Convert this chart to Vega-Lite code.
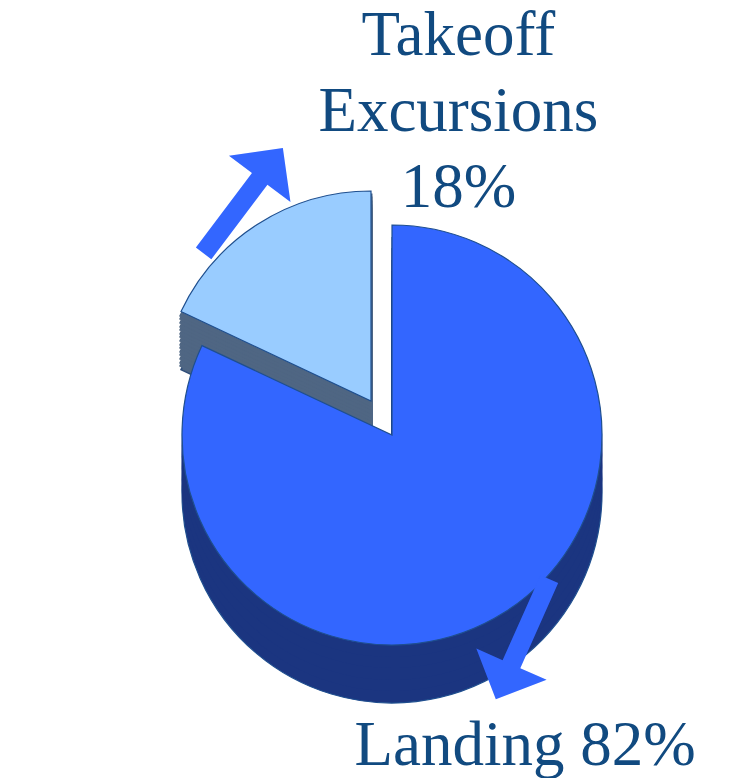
{
  "$schema": "https://vega.github.io/schema/vega-lite/v6.json",
  "width": 748,
  "height": 778,
  "autosize": "none",
  "padding": 0,
  "background": "white",
  "view": {"stroke": null},
  "data": {
    "values": [
      {"segment": "Landing", "pct": 82, "label": "Landing 82%"},
      {"segment": "Takeoff Excursions", "pct": 18, "label": ["Takeoff", "Excursions", "18%"]}
    ]
  },
  "encoding": {
    "theta": {"field": "pct", "type": "quantitative", "stack": true},
    "order": {"field": "pct", "type": "quantitative", "sort": "descending"},
    "detail": {"field": "segment", "type": "nominal"}
  },
  "layer": [
    {"mark": {"type": "arc", "radius": 210, "xOffset": -3, "yOffset": 70, "fill": "#4F6683", "stroke": "#2F4E7A", "strokeWidth": 1.5},
     "encoding": {"opacity": {"condition": {"test": "datum.segment === 'Takeoff Excursions'", "value": 1}, "value": 0}}},
    {"mark": {"type": "arc", "radius": 210, "xOffset": -3, "yOffset": 66, "fill": "#4F6683", "stroke": "#4F6683", "strokeWidth": 3},
     "encoding": {"opacity": {"condition": {"test": "datum.segment === 'Takeoff Excursions'", "value": 1}, "value": 0}}},
    {"mark": {"type": "arc", "radius": 210, "xOffset": -3, "yOffset": 63, "fill": "#4F6683", "stroke": "#4F6683", "strokeWidth": 3},
     "encoding": {"opacity": {"condition": {"test": "datum.segment === 'Takeoff Excursions'", "value": 1}, "value": 0}}},
    {"mark": {"type": "arc", "radius": 210, "xOffset": -3, "yOffset": 59, "fill": "#4F6683", "stroke": "#4F6683", "strokeWidth": 3},
     "encoding": {"opacity": {"condition": {"test": "datum.segment === 'Takeoff Excursions'", "value": 1}, "value": 0}}},
    {"mark": {"type": "arc", "radius": 210, "xOffset": -3, "yOffset": 55, "fill": "#4F6683", "stroke": "#4F6683", "strokeWidth": 3},
     "encoding": {"opacity": {"condition": {"test": "datum.segment === 'Takeoff Excursions'", "value": 1}, "value": 0}}},
    {"mark": {"type": "arc", "radius": 210, "xOffset": -3, "yOffset": 52, "fill": "#4F6683", "stroke": "#4F6683", "strokeWidth": 3},
     "encoding": {"opacity": {"condition": {"test": "datum.segment === 'Takeoff Excursions'", "value": 1}, "value": 0}}},
    {"mark": {"type": "arc", "radius": 210, "xOffset": -3, "yOffset": 48, "fill": "#4F6683", "stroke": "#4F6683", "strokeWidth": 3},
     "encoding": {"opacity": {"condition": {"test": "datum.segment === 'Takeoff Excursions'", "value": 1}, "value": 0}}},
    {"mark": {"type": "arc", "radius": 210, "xOffset": -3, "yOffset": 45, "fill": "#4F6683", "stroke": "#4F6683", "strokeWidth": 3},
     "encoding": {"opacity": {"condition": {"test": "datum.segment === 'Takeoff Excursions'", "value": 1}, "value": 0}}},
    {"mark": {"type": "arc", "radius": 210, "xOffset": -3, "yOffset": 41, "fill": "#4F6683", "stroke": "#4F6683", "strokeWidth": 3},
     "encoding": {"opacity": {"condition": {"test": "datum.segment === 'Takeoff Excursions'", "value": 1}, "value": 0}}},
    {"mark": {"type": "arc", "radius": 210, "xOffset": -3, "yOffset": 37, "fill": "#4F6683", "stroke": "#4F6683", "strokeWidth": 3},
     "encoding": {"opacity": {"condition": {"test": "datum.segment === 'Takeoff Excursions'", "value": 1}, "value": 0}}},
    {"mark": {"type": "arc", "radius": 210, "xOffset": -3, "yOffset": 34, "fill": "#4F6683", "stroke": "#4F6683", "strokeWidth": 3},
     "encoding": {"opacity": {"condition": {"test": "datum.segment === 'Takeoff Excursions'", "value": 1}, "value": 0}}},
    {"mark": {"type": "arc", "radius": 210, "xOffset": -3, "yOffset": 30, "fill": "#4F6683", "stroke": "#4F6683", "strokeWidth": 3},
     "encoding": {"opacity": {"condition": {"test": "datum.segment === 'Takeoff Excursions'", "value": 1}, "value": 0}}},
    {"mark": {"type": "arc", "radius": 210, "xOffset": -3, "yOffset": 27, "fill": "#4F6683", "stroke": "#4F6683", "strokeWidth": 3},
     "encoding": {"opacity": {"condition": {"test": "datum.segment === 'Takeoff Excursions'", "value": 1}, "value": 0}}},
    {"mark": {"type": "arc", "radius": 210, "xOffset": -3, "yOffset": 23, "fill": "#4F6683", "stroke": "#4F6683", "strokeWidth": 3},
     "encoding": {"opacity": {"condition": {"test": "datum.segment === 'Takeoff Excursions'", "value": 1}, "value": 0}}},
    {"mark": {"type": "arc", "radius": 210, "xOffset": -3, "yOffset": 19, "fill": "#4F6683", "stroke": "#4F6683", "strokeWidth": 3},
     "encoding": {"opacity": {"condition": {"test": "datum.segment === 'Takeoff Excursions'", "value": 1}, "value": 0}}},
    {"mark": {"type": "arc", "radius": 210, "xOffset": -3, "yOffset": 16, "fill": "#4F6683", "stroke": "#4F6683", "strokeWidth": 3},
     "encoding": {"opacity": {"condition": {"test": "datum.segment === 'Takeoff Excursions'", "value": 1}, "value": 0}}},
    {"mark": {"type": "arc", "radius": 210, "xOffset": -3, "yOffset": 12, "fill": "#99CCFF", "stroke": "#1F4F8F", "strokeWidth": 1.2},
     "encoding": {"opacity": {"condition": {"test": "datum.segment === 'Takeoff Excursions'", "value": 1}, "value": 0}}},
    {"mark": {"type": "arc", "radius": 210, "xOffset": 18, "yOffset": 104, "fill": "#1B3580", "stroke": "#1F4F8F", "strokeWidth": 1.2},
     "encoding": {"opacity": {"condition": {"test": "datum.segment === 'Landing'", "value": 1}, "value": 0}}},
    {"mark": {"type": "arc", "radius": 210, "xOffset": 18, "yOffset": 92, "fill": "#1B3580", "stroke": "#1B3580", "strokeWidth": 1},
     "encoding": {"opacity": {"condition": {"test": "datum.segment === 'Landing'", "value": 1}, "value": 0}}},
    {"mark": {"type": "arc", "radius": 210, "xOffset": 18, "yOffset": 81, "fill": "#1B3580", "stroke": "#1B3580", "strokeWidth": 1},
     "encoding": {"opacity": {"condition": {"test": "datum.segment === 'Landing'", "value": 1}, "value": 0}}},
    {"mark": {"type": "arc", "radius": 210, "xOffset": 18, "yOffset": 69, "fill": "#1B3580", "stroke": "#1B3580", "strokeWidth": 1},
     "encoding": {"opacity": {"condition": {"test": "datum.segment === 'Landing'", "value": 1}, "value": 0}}},
    {"mark": {"type": "arc", "radius": 210, "xOffset": 18, "yOffset": 58, "fill": "#1B3580", "stroke": "#1B3580", "strokeWidth": 1},
     "encoding": {"opacity": {"condition": {"test": "datum.segment === 'Landing'", "value": 1}, "value": 0}}},
    {"mark": {"type": "arc", "radius": 210, "xOffset": 18, "yOffset": 46, "fill": "#3366FF", "stroke": "#1F4F8F", "strokeWidth": 1.2},
     "encoding": {"opacity": {"condition": {"test": "datum.segment === 'Landing'", "value": 1}, "value": 0}}},
    {"mark": {"type": "text", "radius": 275, "xOffset": 18, "yOffset": 46, "font": "DejaVu Sans", "fontSize": 180, "angle": 307, "fill": "#3366FF", "align": "center", "baseline": "middle"},
     "encoding": {"text": {"value": "➞"}, "opacity": {"condition": {"test": "datum.segment === 'Takeoff Excursions'", "value": 1}, "value": 0}}},
    {"mark": {"type": "text", "radius": 240, "xOffset": 18, "yOffset": 46, "font": "DejaVu Sans", "fontSize": 180, "angle": 114, "fill": "#3366FF", "align": "center", "baseline": "middle"},
     "encoding": {"text": {"value": "➞"}, "opacity": {"condition": {"test": "datum.segment === 'Landing'", "value": 1}, "value": 0}}},
    {"mark": {"type": "text", "radius": 380, "xOffset": 18, "yOffset": 46, "dx": 270, "dy": -78, "font": "Liberation Serif", "fontSize": 63, "lineHeight": 76, "fill": "#114A80", "align": "center", "baseline": "middle"},
     "encoding": {"text": {"field": "label"}, "opacity": {"condition": {"test": "datum.segment === 'Takeoff Excursions'", "value": 1}, "value": 0}}},
    {"mark": {"type": "text", "radius": 368, "xOffset": 18, "yOffset": 46, "dx": -64, "dy": 0, "font": "Liberation Serif", "fontSize": 63, "fill": "#114A80", "align": "center", "baseline": "middle"},
     "encoding": {"text": {"field": "label"}, "opacity": {"condition": {"test": "datum.segment === 'Landing'", "value": 1}, "value": 0}}}
  ]
}
